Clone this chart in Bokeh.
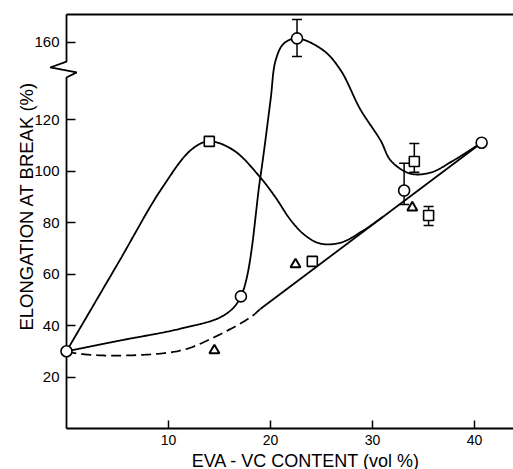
import numpy as np
from bokeh.plotting import figure
from bokeh.models import Range1d, FixedTicker, Whisker, ColumnDataSource, TeeHead
from bokeh.embed import file_html
from bokeh.resources import INLINE

circ_x = [0.0, 17.1, 22.6, 33.1, 40.7]
circ_y = [30.0, 51.3, 161.5, 92.4, 111.0]
circ_err_x = [22.6, 33.1]
circ_err_lo = [154.5, 87.0]
circ_err_hi = [168.8, 103.0]

sq_x = [14.0, 24.1, 34.1, 35.5]
sq_y = [111.5, 64.9, 103.7, 82.7]
sq_err_x = [34.1, 35.5]
sq_err_lo = [99.5, 78.8]
sq_err_hi = [110.7, 86.2]

tri_x = [14.5, 22.45, 33.9]
tri_y = [30.3, 63.7, 85.8]

# hand-drawn curves (knots)
curveA_x = [0, 5.3, 11.2, 15.4, 17.1, 19.0, 20.0, 20.5, 21.3, 22.6, 25.2, 26.9, 28.8, 30.8, 31.8, 33.7, 35.7, 37.9, 40.7]
curveA_y = [30, 34.2, 38.8, 43.9, 51.3, 97.5, 127.4, 152.9, 159.5, 161.5, 156.8, 139, 124, 111.8, 104, 99, 99.4, 104, 111]
curveB_x = [0, 5.1, 9.3, 12.3, 14.0, 16.4, 19.0, 20.5, 22.0, 23.4, 24.9, 26.9, 29.1, 31.0]
curveB_y = [30, 64.5, 93, 108.5, 111.5, 108, 97.5, 89.7, 80.8, 75.0, 71.8, 72.2, 76.9, 82.1]
curveC_x = [0, 1.1, 4.9, 11.2, 14.4, 18.0, 19.0]
curveC_y = [30, 29.1, 28.3, 30.3, 35.3, 43.1, 46.4]
lineD_x = [19.0, 40.7]
lineD_y = [46.4, 111.0]

x_ticks = [10, 20, 30, 40]
y_ticks = [20, 40, 60, 80, 100, 120, 160]

# ---------------- broken y axis ----------------
BREAK_AT = 140
BREAK_GAP = 10


def disp(v):
    v = np.asarray(v, dtype=float)
    return np.where(v > BREAK_AT, v - BREAK_GAP, v)


PX_X = 10.2   # px per x unit
PX_Y = 2.575  # px per y unit
W, H = 513, 469
X0_PX, Y0_PX = 66, 428

x_start = -X0_PX / PX_X
y_start = -(H - Y0_PX) / PX_Y
TOP = (Y0_PX - 14) / PX_Y


def smooth(xs, ys, n=30):
    P = np.column_stack([np.asarray(xs, float) * PX_X, np.asarray(ys, float) * PX_Y])
    P = np.vstack([2 * P[0] - P[1], P, 2 * P[-1] - P[-2]])
    out = []
    for i in range(1, len(P) - 2):
        p0, p1, p2, p3 = P[i - 1], P[i], P[i + 1], P[i + 2]
        t0 = 0.0
        t1 = t0 + np.linalg.norm(p1 - p0) ** 0.5
        t2 = t1 + np.linalg.norm(p2 - p1) ** 0.5
        t3 = t2 + np.linalg.norm(p3 - p2) ** 0.5
        t = np.linspace(t1, t2, n)[:, None]
        A1 = (t1 - t) / (t1 - t0) * p0 + (t - t0) / (t1 - t0) * p1
        A2 = (t2 - t) / (t2 - t1) * p1 + (t - t1) / (t2 - t1) * p2
        A3 = (t3 - t) / (t3 - t2) * p2 + (t - t2) / (t3 - t2) * p3
        B1 = (t2 - t) / (t2 - t0) * A1 + (t - t0) / (t2 - t0) * A2
        B2 = (t3 - t) / (t3 - t1) * A2 + (t - t1) / (t3 - t1) * A3
        C = (t2 - t) / (t2 - t1) * B1 + (t - t1) / (t2 - t1) * B2
        out.append(C if i == 1 else C[1:])
    C = np.vstack(out)
    return C[:, 0] / PX_X, C[:, 1] / PX_Y


p = figure(width=W, height=H, output_backend="svg", toolbar_location=None,
           x_range=Range1d(x_start, x_start + W / PX_X),
           y_range=Range1d(y_start, y_start + H / PX_Y),
           min_border=0)
p.outline_line_color = None
p.grid.visible = False
p.background_fill_color = "white"
p.border_fill_color = "white"

FONT = "Liberation Sans"

xa = p.xaxis[0]
xa.fixed_location = 0
xa.bounds = (3.1, 43.9)
xa.ticker = FixedTicker(ticks=x_ticks)
xa.axis_line_color = None
xa.major_tick_in = 8
xa.major_tick_out = 0
xa.major_tick_line_width = 1.5
xa.minor_tick_line_color = None
xa.major_label_text_font = FONT
xa.major_label_text_font_size = "14px"
xa.major_label_text_color = "black"
xa.major_label_standoff = 6
xa.axis_label = "EVA - VC CONTENT (vol %)"
xa.axis_label_text_font = FONT
xa.axis_label_text_font_size = "18px"
xa.axis_label_text_font_style = "normal"
xa.axis_label_text_color = "black"
xa.axis_label_standoff = 3

ya = p.yaxis[0]
ya.fixed_location = 0
ya.bounds = (12, float(TOP))
ya.ticker = FixedTicker(ticks=[float(disp(t)) for t in y_ticks])
ya.major_label_overrides = {float(disp(t)): str(t) for t in y_ticks}
ya.axis_line_color = None
ya.major_tick_in = 9
ya.major_tick_out = 0
ya.major_tick_line_width = 1.5
ya.minor_tick_line_color = None
ya.major_label_text_font = FONT
ya.major_label_text_font_size = "15px"
ya.major_label_text_color = "black"
ya.major_label_standoff = 7
ya.axis_label = "ELONGATION AT BREAK (%)"
ya.axis_label_text_font = FONT
ya.axis_label_text_font_size = "18.5px"
ya.axis_label_text_font_style = "normal"
ya.axis_label_text_color = "black"
ya.axis_label_standoff = -6

# spines (left with break zigzag, bottom, top)
lo, hi = 136.3, 142.5
p.line([0, 0, -1.6, 1.0, 0, 0], [float(TOP), hi, 140.2, 138.3, lo, 0],
       line_color="black", line_width=1.8)
p.line([0, x_start + W / PX_X], [0, 0], line_color="black", line_width=1.8)
p.line([0, x_start + W / PX_X], [float(TOP), float(TOP)], line_color="black", line_width=1.8)

# curves
ax_, ay_ = smooth(curveA_x, disp(curveA_y))
p.line(ax_, ay_, line_color="black", line_width=1.8)
bx_, by_ = smooth(curveB_x, disp(curveB_y))
p.line(bx_, by_, line_color="black", line_width=1.8)
cx_, cy_ = smooth(curveC_x, disp(curveC_y))
p.line(cx_, cy_, line_color="black", line_width=1.8, line_dash="10 5")
p.line(lineD_x, disp(lineD_y), line_color="black", line_width=1.8)

# error bars
for ex, elo, ehi in [(circ_err_x, circ_err_lo, circ_err_hi), (sq_err_x, sq_err_lo, sq_err_hi)]:
    src = ColumnDataSource(dict(x=ex, lower=disp(elo), upper=disp(ehi)))
    w = Whisker(source=src, base="x", lower="lower", upper="upper",
                line_color="black", line_width=1.5, level="underlay",
                upper_head=TeeHead(size=10, line_width=1.5, line_color="black"),
                lower_head=TeeHead(size=10, line_width=1.5, line_color="black"))
    p.add_layout(w)

# markers
p.scatter(circ_x, disp(circ_y), marker="circle", size=11, fill_color="white",
          line_color="black", line_width=1.6)
p.scatter(sq_x, disp(sq_y), marker="square", size=10, fill_color="white",
          line_color="black", line_width=1.6)
p.scatter(tri_x, disp(tri_y), marker="triangle", size=10, fill_color="white",
          line_color="black", line_width=2)

open("out.html", "w").write(file_html(p, INLINE))
